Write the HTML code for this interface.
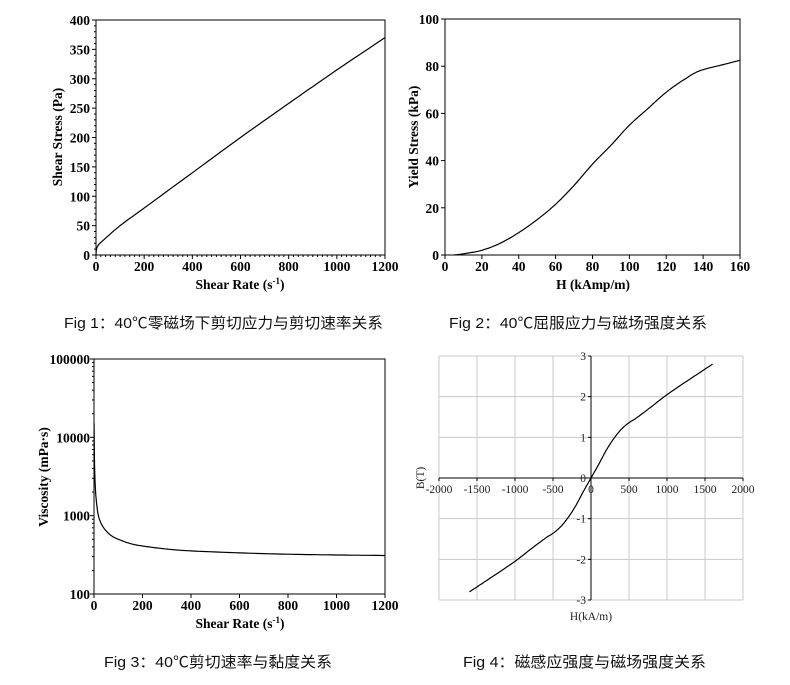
<!DOCTYPE html>
<html><head><meta charset="utf-8"><style>
html,body{margin:0;padding:0;background:#fff;}
svg{display:block;}
.t{font-family:"Liberation Serif",serif;font-weight:bold;font-size:13.5px;fill:#000;}
.g{font-family:"Liberation Serif",serif;font-size:11.5px;fill:#222;}
.c{font-family:"Liberation Sans","Noto Sans CJK SC",sans-serif;font-size:15px;fill:#111;}
</style></head><body>
<svg id="s" width="790" height="685" xmlns="http://www.w3.org/2000/svg">
<g id="root" stroke-linecap="butt"></g>
<text class="c" x="64" y="328" textLength="319" lengthAdjust="spacingAndGlyphs">Fig 1：40℃零磁场下剪切应力与剪切速率关系</text>
<text class="c" x="449" y="328" textLength="258" lengthAdjust="spacingAndGlyphs">Fig 2：40℃屈服应力与磁场强度关系</text>
<text class="c" x="104" y="667" textLength="228" lengthAdjust="spacingAndGlyphs">Fig 3：40℃剪切速率与黏度关系</text>
<text class="c" x="463" y="667" textLength="243" lengthAdjust="spacingAndGlyphs">Fig 4：磁感应强度与磁场强度关系</text>
</svg>
<script>
var R=document.getElementById('root'),NS='http://www.w3.org/2000/svg';
function el(n,a,txt){var e=document.createElementNS(NS,n);for(var k in a)e.setAttribute(k,a[k]);if(txt!=null)e.textContent=txt;R.appendChild(e);return e;}
function line(x1,y1,x2,y2,c,w){el('line',{x1:x1,y1:y1,x2:x2,y2:y2,stroke:c||'#000','stroke-width':w||1});}
function path(pts,fx,fy){var d='';pts.forEach(function(p,i){d+=(i?'L':'M')+fx(p[0]).toFixed(1)+' '+fy(p[1]).toFixed(1);});el('path',{d:d,fill:'none',stroke:'#000','stroke-width':1.2,'stroke-linejoin':'round'});}
function smooth(pts){
 var o=[];for(var i=0;i<pts.length-1;i++){var p0=pts[Math.max(i-1,0)],p1=pts[i],p2=pts[i+1],p3=pts[Math.min(i+2,pts.length-1)];
 for(var t=0;t<1;t+=0.1){var t2=t*t,t3=t2*t;o.push([0,1].map(function(k){return 0.5*((2*p1[k])+(-p0[k]+p2[k])*t+(2*p0[k]-5*p1[k]+4*p2[k]-p3[k])*t2+(-p0[k]+3*p1[k]-3*p2[k]+p3[k])*t3);}));}}
 o.push(pts[pts.length-1]);return o;}
function srlabel(x,y){var tx=el('text',{'class':'t',x:x,y:y,'text-anchor':'middle'},'Shear Rate (s');var ts=document.createElementNS(NS,'tspan');ts.setAttribute('dy','-5');ts.setAttribute('font-size','9');ts.textContent='-1';tx.appendChild(ts);var t2=document.createElementNS(NS,'tspan');t2.setAttribute('dy','5');t2.textContent=')';tx.appendChild(t2);}
// Fig1
(function(){var L=96,Rr=385,T=20,B=255;var fx=function(r){return L+r*(Rr-L)/1200},fy=function(s){return B-s*(B-T)/400};
el('rect',{x:L,y:T,width:Rr-L,height:B-T,fill:'none',stroke:'#000','stroke-width':1});
for(var r=0;r<=1200;r+=20){var x=fx(r);line(x,B,x,B+(r%200?2:4));}
for(var s=0;s<=400;s+=10){var y=fy(s);line(L,y,L-(s%50?2:4),y);}
for(r=0;r<=1200;r+=200)el('text',{'class':'t',x:fx(r),y:B+16,'text-anchor':'middle'},r);
for(s=0;s<=400;s+=50)el('text',{'class':'t',x:L-6,y:fy(s)+5,'text-anchor':'end'},s);
srlabel(240,289);
el('text',{'class':'t',x:0,y:0,'text-anchor':'middle',transform:'translate(62,137) rotate(-90)'},'Shear Stress (Pa)');
path(smooth([[0,0],[2,10],[10,17],[30,25],[100,50],[200,80],[400,140],[600,200],[800,258],[1000,315],[1200,370]]),fx,fy);})();
// Fig2
(function(){var L=445,Rr=740,T=19,B=255;var fx=function(h){return L+h*(Rr-L)/160},fy=function(v){return B-v*(B-T)/100};
el('rect',{x:L,y:T,width:Rr-L,height:B-T,fill:'none',stroke:'#000','stroke-width':1});
for(var h=0;h<=160;h+=20){line(fx(h),B,fx(h),B+4);el('text',{'class':'t',x:fx(h),y:B+16,'text-anchor':'middle'},h);}
for(var v=0;v<=100;v+=20){line(L,fy(v),L-4,fy(v));el('text',{'class':'t',x:L-6,y:fy(v)+5,'text-anchor':'end'},v);}
el('text',{'class':'t',x:593,y:289,'text-anchor':'middle'},'H (kAmp/m)');
el('text',{'class':'t',x:0,y:0,'text-anchor':'middle',transform:'translate(418,137) rotate(-90)'},'Yield Stress (kPa)');
path(smooth([[5,0],[10,0.5],[20,2],[30,5],[40,9.5],[50,15],[60,21.5],[70,29.5],[80,38.5],[90,46.5],[100,55],[110,62],[120,69],[130,74.5],[138,78],[150,80.5],[160,82.5]]),fx,fy);})();
// Fig3
(function(){var L=94,Rr=385,T=359,B=594;var fx=function(r){return L+r*(Rr-L)/1200},fy=function(v){return B-(Math.log10(v)-2)*(B-T)/3};
el('rect',{x:L,y:T,width:Rr-L,height:B-T,fill:'none',stroke:'#000','stroke-width':1});
for(var r=0;r<=1200;r+=200){line(fx(r),B,fx(r),B+4);el('text',{'class':'t',x:fx(r),y:B+16,'text-anchor':'middle'},r);}
for(var d=2;d<=5;d++){var y=fy(Math.pow(10,d));line(L,y,L-4,y);el('text',{'class':'t',x:L-4,y:y+5,'text-anchor':'end'},Math.pow(10,d));
 if(d<5)for(var m=2;m<10;m++){var yy=fy(m*Math.pow(10,d));line(L,yy,L-2,yy);}}
srlabel(240,628);
el('text',{'class':'t',x:0,y:0,'text-anchor':'middle',transform:'translate(48,477) rotate(-90)'},'Viscosity (mPa·s)');
var pts=[[0.3,15000],[2,5000],[5,2500],[10,1500],[20,950],[40,700],[70,560],[100,500],[150,440],[200,410],[300,375],[400,355],[600,335],[800,322],[1000,315],[1200,310]];
var sp=smooth(pts.map(function(p){return [fx(p[0]),fy(p[1])];}));path(sp,function(x){return x},function(y){return y});})();
// Fig4
(function(){var L=439,Rr=743,T=356,B=600;var fx=function(h){return L+(h+2000)*(Rr-L)/4000},fy=function(b){return B-(b+3)*(B-T)/6};
for(var h=-2000;h<=2000;h+=500)line(fx(h),T,fx(h),B,'#c8c8c8',1);
for(var b=-3;b<=3;b++)line(L,fy(b),Rr,fy(b),'#c8c8c8',1);
line(L,fy(0),Rr,fy(0),'#000',1);line(fx(0),T,fx(0),B,'#000',1);
for(h=-2000;h<=2000;h+=500){line(fx(h),fy(0),fx(h),fy(0)+3,'#000',1);el('text',{'class':'g',x:fx(h),y:fy(0)+15,'text-anchor':'middle'},h);}
for(b=-3;b<=3;b++){line(fx(0)-3,fy(b),fx(0),fy(b),'#000',1);el('text',{'class':'g',x:fx(0)-5,y:fy(b)+4,'text-anchor':'end'},b);}
el('text',{'class':'g',x:591,y:620,'text-anchor':'middle','font-size':'13'},'H(kA/m)');
el('text',{'class':'g',x:0,y:0,'text-anchor':'middle','font-size':'13',transform:'translate(424,478) rotate(-90)'},'B(T)');
var half=[[0,0],[100,0.33],[200,0.68],[300,0.97],[400,1.2],[500,1.36],[600,1.48],[800,1.76],[1000,2.05],[1300,2.43],[1600,2.8]];
var pts=half.slice(1).reverse().map(function(p){return[-p[0],-p[1]];}).concat(half);
path(smooth(pts),fx,fy);})();
</script>
</body></html>
